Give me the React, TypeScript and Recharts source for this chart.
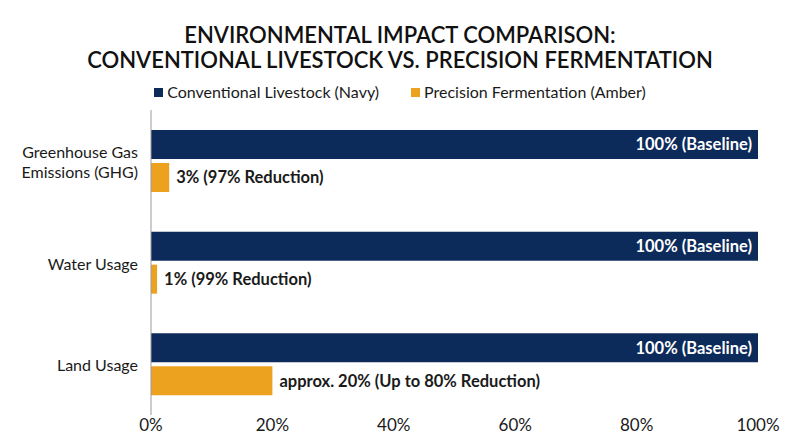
import React from 'react';
import { BarChart, Bar, XAxis, YAxis, LabelList } from 'recharts';

const categories = ['Greenhouse Gas Emissions (GHG)', 'Water Usage', 'Land Usage'];
const categoryLines = [['Greenhouse Gas', 'Emissions (GHG)'], ['Water Usage'], ['Land Usage']];
const livestockValues = [100, 100, 100];
const fermentationValues = [3, 1, 20];
const livestockLabels = ['100% (Baseline)', '100% (Baseline)', '100% (Baseline)'];
const fermentationLabels = ['3% (97% Reduction)', '1% (99% Reduction)', 'approx. 20% (Up to 80% Reduction)'];
const xTicks = [0, 20, 40, 60, 80, 100];

const NAVY = '#0c2a5a';
const AMBER = '#eca21f';
const FONT = 'Lato, "Open Sans", sans-serif';

const data = categories.map((name, i) => ({
  name,
  livestock: livestockValues[i],
  fermentation: fermentationValues[i],
  livestockLabel: livestockLabels[i],
  fermentationLabel: fermentationLabels[i],
}));

const CategoryTick = (props: any) => {
  const { x, y, payload } = props;
  const idx = categories.indexOf(payload.value);
  const lines = idx >= 0 ? categoryLines[idx] : [payload.value];
  const lineH = 20;
  const startY = y - ((lines.length - 1) * lineH) / 2;
  return (
    <text x={x} y={startY} textAnchor="end" fill="#1a1a1a" fontSize={16} fontFamily={FONT} dominantBaseline="central">
      {lines.map((l, i) => (
        <tspan key={i} x={x} y={startY + i * lineH} dominantBaseline="central">{l}</tspan>
      ))}
    </text>
  );
};

const App: React.FC = () => {
  return (
    <div style={{ position: 'absolute', left: 0, top: 0, width: 800, height: 447, background: '#fff', fontFamily: FONT }}>
      {/* title */}
      <div style={{ position: 'absolute', top: 22, left: 0, width: 800, textAlign: 'center', fontSize: 22, fontWeight: 600, lineHeight: '25px', color: '#111' }}>
        ENVIRONMENTAL IMPACT COMPARISON:<br />
        CONVENTIONAL LIVESTOCK VS. PRECISION FERMENTATION
      </div>
      {/* legend */}
      <div style={{ position: 'absolute', top: 82, left: 0, width: 800, display: 'flex', justifyContent: 'center', fontSize: 16, color: '#1a1a1a', lineHeight: '20px' }}>
        <span style={{ display: 'flex', alignItems: 'center', marginRight: 32 }}>
          <span style={{ width: 9, height: 9, background: NAVY, marginRight: 4 }} />
          Conventional Livestock (Navy)
        </span>
        <span style={{ display: 'flex', alignItems: 'center' }}>
          <span style={{ width: 9, height: 9, background: AMBER, marginRight: 4 }} />
          Precision Fermentation (Amber)
        </span>
      </div>
      <div style={{ position: 'absolute', left: 0, top: 0 }}>
        <BarChart
          width={800}
          height={447}
          data={data}
          layout="vertical"
          margin={{ top: 110, right: 42, bottom: 2, left: 0 }}
          barCategoryGap={20}
          barGap={4}
        >
          <XAxis
            type="number"
            domain={[0, 100]}
            ticks={xTicks}
            tickFormatter={(v) => `${v}%`}
            axisLine={false}
            tickLine={false}
            tickSize={0}
            tickMargin={4}
            height={30}
            tick={{ fill: '#1a1a1a', fontSize: 17, fontFamily: FONT }}
            interval={0}
          />
          <YAxis
            type="category"
            dataKey="name"
            width={151}
            axisLine={{ stroke: '#9a9a9a', strokeWidth: 1 }}
            tickLine={false}
            tickSize={0}
            tickMargin={13}
            tick={<CategoryTick />}
          />
          <Bar dataKey="livestock" fill={NAVY} isAnimationActive={false}>
            <LabelList
              dataKey="livestockLabel"
              position="insideRight"
              offset={6}
              fill="#ffffff"
              fontSize={16.5}
              fontWeight={700}
              fontFamily={FONT}
            />
          </Bar>
          <Bar dataKey="fermentation" fill={AMBER} isAnimationActive={false}>
            <LabelList
              dataKey="fermentationLabel"
              position="right"
              offset={7}
              fill="#1a1a1a"
              fontSize={16.5}
              fontWeight={700}
              fontFamily={FONT}
            />
          </Bar>
        </BarChart>
      </div>
    </div>
  );
};

export default App;
